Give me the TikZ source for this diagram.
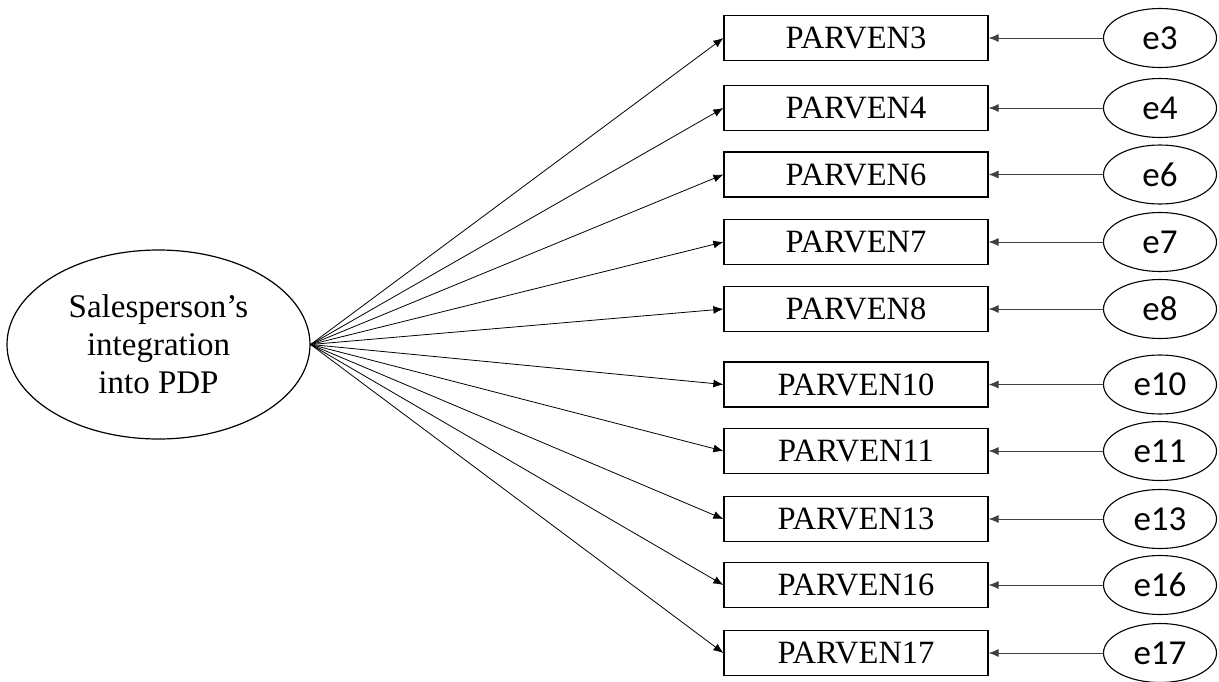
\documentclass[tikz,border=0pt]{standalone}
\usepackage{fontspec}
\setmainfont{Liberation Serif}
\newfontfamily\errfont{Carlito}
\usetikzlibrary{arrows.meta,shapes.geometric}
\begin{document}
\begin{tikzpicture}[x=1pt,y=-1pt,
  item/.style={draw,line width=1.2pt,minimum width=264pt,minimum height=45pt,inner sep=0pt,font=\fontsize{32.5}{38}\selectfont},
  err/.style={draw,ellipse,line width=1.1pt,minimum width=113pt,minimum height=59pt,inner sep=0pt,font=\errfont\fontsize{35}{40}\selectfont},
  latent/.style={draw,ellipse,line width=1.2pt,minimum width=303pt,minimum height=189pt,inner sep=0pt,align=center,font=\fontsize{33}{38}\selectfont},
  load/.style={line width=0.8pt,-{Latex[length=10pt,width=8pt]}},
  eload/.style={line width=0.9pt,draw=black!75,-{Latex[length=10pt,width=8pt]}}]
\useasboundingbox (0,0) rectangle (1219,681);
\fill[white] (0,0) rectangle (1219,681);
\node[latent] (F) at (158.5,344.5) {Salesperson's\\integration\\into PDP};
\foreach \n/\y in {3/38,4/108,6/174.5,7/242,8/309,10/384.5,11/451,13/519,16/585,17/653}{
  \node[item] (p\n) at (856,\y) {PARVEN\n};
  \node[err] (e\n) at (1160,\y) {e\n};
  \draw[load] (F.east) -- (p\n.west);
  \draw[eload] (e\n.west) -- (p\n.east);
}
\end{tikzpicture}
\end{document}
